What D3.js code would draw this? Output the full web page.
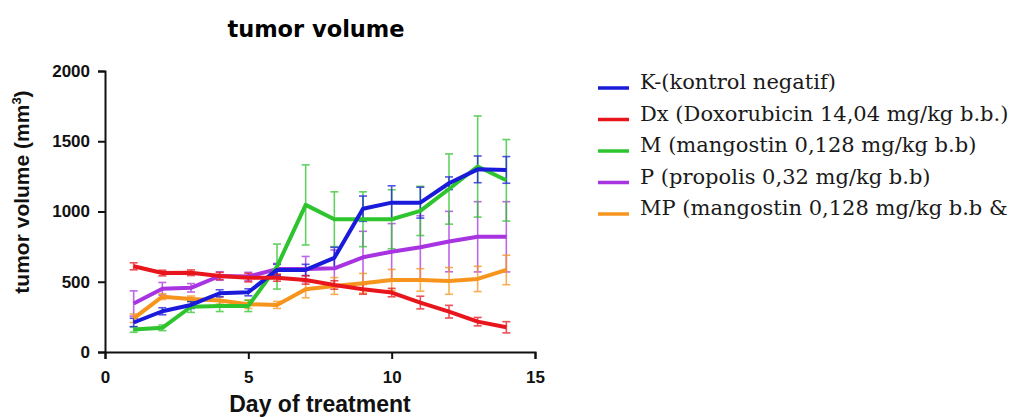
<!DOCTYPE html>
<meta charset='utf-8'>
<style>
    body { margin: 0; background: #fff; }
    svg { display: block; }
</style>
<body>
    <script src='https://d3js.org/d3.v7.min.js'></script>
    <script>
        var width = 1009,
            height = 417;

        var days = [1, 2, 3, 4, 5, 6, 7, 8, 9, 10, 11, 12, 13, 14];

        var names = ['K-(kontrol negatif)',
                     'Dx (Doxorubicin 14,04 mg/kg b.b.)',
                     'M (mangostin 0,128 mg/kg b.b)',
                     'P (propolis 0,32 mg/kg b.b)',
                     'MP (mangostin 0,128 mg/kg b.b &'];
        var colors = ['#1a1adb', '#e8161c', '#2ec42e', '#a833e0', '#f7941d'];

        var kVals  = [210, 290, 335, 418, 425, 584, 584, 670, 1020, 1063, 1063, 1201, 1300, 1296];
        var kErr   = [30, 25, 25, 25, 25, 40, 40, 75, 90, 120, 110, 45, 95, 95];
        var dxVals = [610, 562, 564, 541, 529, 529, 513, 477, 446, 423, 352, 287, 216, 176];
        var dxErr  = [25, 20, 20, 25, 30, 25, 30, 30, 35, 30, 45, 45, 30, 40];
        var mVals  = [160, 172, 322, 328, 328, 608, 1047, 945, 945, 945, 1004, 1160, 1320, 1222];
        var mErr   = [20, 20, 40, 40, 40, 160, 285, 195, 195, 210, 175, 250, 360, 290];
        var pVals  = [345, 450, 457, 541, 537, 590, 590, 596, 674, 714, 745, 786, 820, 820];
        var pErr   = [90, 45, 30, 30, 30, 40, 90, 130, 185, 200, 225, 215, 250, 250];
        var mpVals = [240, 394, 378, 366, 340, 335, 446, 470, 489, 513, 513, 506, 520, 584];
        var mpErr  = [30, 20, 20, 25, 30, 25, 60, 60, 70, 75, 80, 95, 90, 105];

        var xTicks = [0, 5, 10, 15];
        var yTicks = [0, 500, 1000, 1500, 2000];

        var series = [
            { name: names[0], color: colors[0], vals: kVals,  err: kErr },
            { name: names[1], color: colors[1], vals: dxVals, err: dxErr },
            { name: names[2], color: colors[2], vals: mVals,  err: mErr },
            { name: names[3], color: colors[3], vals: pVals,  err: pErr },
            { name: names[4], color: colors[4], vals: mpVals, err: mpErr }
        ];
        // drawing order (back to front)
        var drawOrder = [3, 4, 2, 0, 1];

        var svg = d3.select('body').append('svg')
            .attr('width', width)
            .attr('height', height);

        var x = d3.scaleLinear().domain([0, 15]).range([105, 535]);
        var y = d3.scaleLinear().domain([0, 2000]).range([352, 71]);

        // title
        svg.append('text')
            .attr('x', 316).attr('y', 37)
            .attr('text-anchor', 'middle')
            .style('font-family', 'DejaVu Sans')
            .style('font-weight', 'bold')
            .style('font-size', '22.5px')
            .text('tumor volume');

        // axes
        var xAxis = svg.append('g')
            .attr('transform', 'translate(0,' + y(0) + ')')
            .call(d3.axisBottom(x).tickValues(xTicks).tickFormat(d3.format('d'))
                .tickSizeOuter(0).tickSize(7).tickPadding(12));
        var yAxis = svg.append('g')
            .attr('transform', 'translate(' + x(0) + ',0)')
            .call(d3.axisLeft(y).tickValues(yTicks).tickFormat(d3.format('d'))
                .tickSizeOuter(0).tickSize(7).tickPadding(8));

        [xAxis, yAxis].forEach(function(a) {
            a.selectAll('path, line').attr('stroke', '#111').attr('stroke-width', 2);
            a.selectAll('text')
                .attr('fill', '#111')
                .style('font-family', 'Liberation Sans, Arial, sans-serif')
                .style('font-weight', 'bold')
                .style('font-size', '17px');
        });

        // axis labels
        svg.append('text')
            .attr('x', 320).attr('y', 412)
            .attr('text-anchor', 'middle')
            .style('font-family', 'Liberation Sans, Arial, sans-serif')
            .style('font-weight', 'bold')
            .style('font-size', '23px')
            .attr('fill', '#111')
            .text('Day of treatment');

        var ylab = svg.append('text')
            .attr('transform', 'translate(29,192) rotate(-90)')
            .attr('text-anchor', 'middle')
            .style('font-family', 'Liberation Sans, Arial, sans-serif')
            .style('font-weight', 'bold')
            .style('font-size', '21px')
            .attr('fill', '#111');
        ylab.append('tspan').text('tumor volume (mm');
        ylab.append('tspan').attr('dy', -8).style('font-size', '13px').text('3');
        ylab.append('tspan').attr('dy', 8).text(')');

        // error bars
        var cap = 4;
        drawOrder.forEach(function(i) {
            var s = series[i];
            var g = svg.append('g')
                .attr('stroke', s.color)
                .attr('stroke-width', 1.6)
                .attr('opacity', 0.75);
            days.forEach(function(d, j) {
                var lo = s.vals[j] - s.err[j], hi = s.vals[j] + s.err[j];
                g.append('line').attr('x1', x(d)).attr('x2', x(d)).attr('y1', y(lo)).attr('y2', y(hi));
                g.append('line').attr('x1', x(d) - cap).attr('x2', x(d) + cap).attr('y1', y(lo)).attr('y2', y(lo));
                g.append('line').attr('x1', x(d) - cap).attr('x2', x(d) + cap).attr('y1', y(hi)).attr('y2', y(hi));
            });
        });

        // lines
        var line = d3.line()
            .x(function(d, j) { return x(days[j]); })
            .y(function(d) { return y(d); });

        drawOrder.forEach(function(i) {
            var s = series[i];
            svg.append('path')
                .datum(s.vals)
                .attr('fill', 'none')
                .attr('stroke', s.color)
                .attr('stroke-width', 4)
                .attr('stroke-linejoin', 'round')
                .attr('d', line);
        });

        // legend
        var legend = svg.append('g');
        series.forEach(function(s, i) {
            var ly = 88 + i * 31.5;
            legend.append('line')
                .attr('x1', 598).attr('x2', 629)
                .attr('y1', ly).attr('y2', ly)
                .attr('stroke', s.color)
                .attr('stroke-width', 3.5);
            legend.append('text')
                .attr('x', 640).attr('y', ly + 1)
                .style('font-family', 'DejaVu Serif')
                .style('font-size', '21px')
                .attr('fill', '#1a1a1a')
                .text(s.name);
        });
    </script>
</body>
